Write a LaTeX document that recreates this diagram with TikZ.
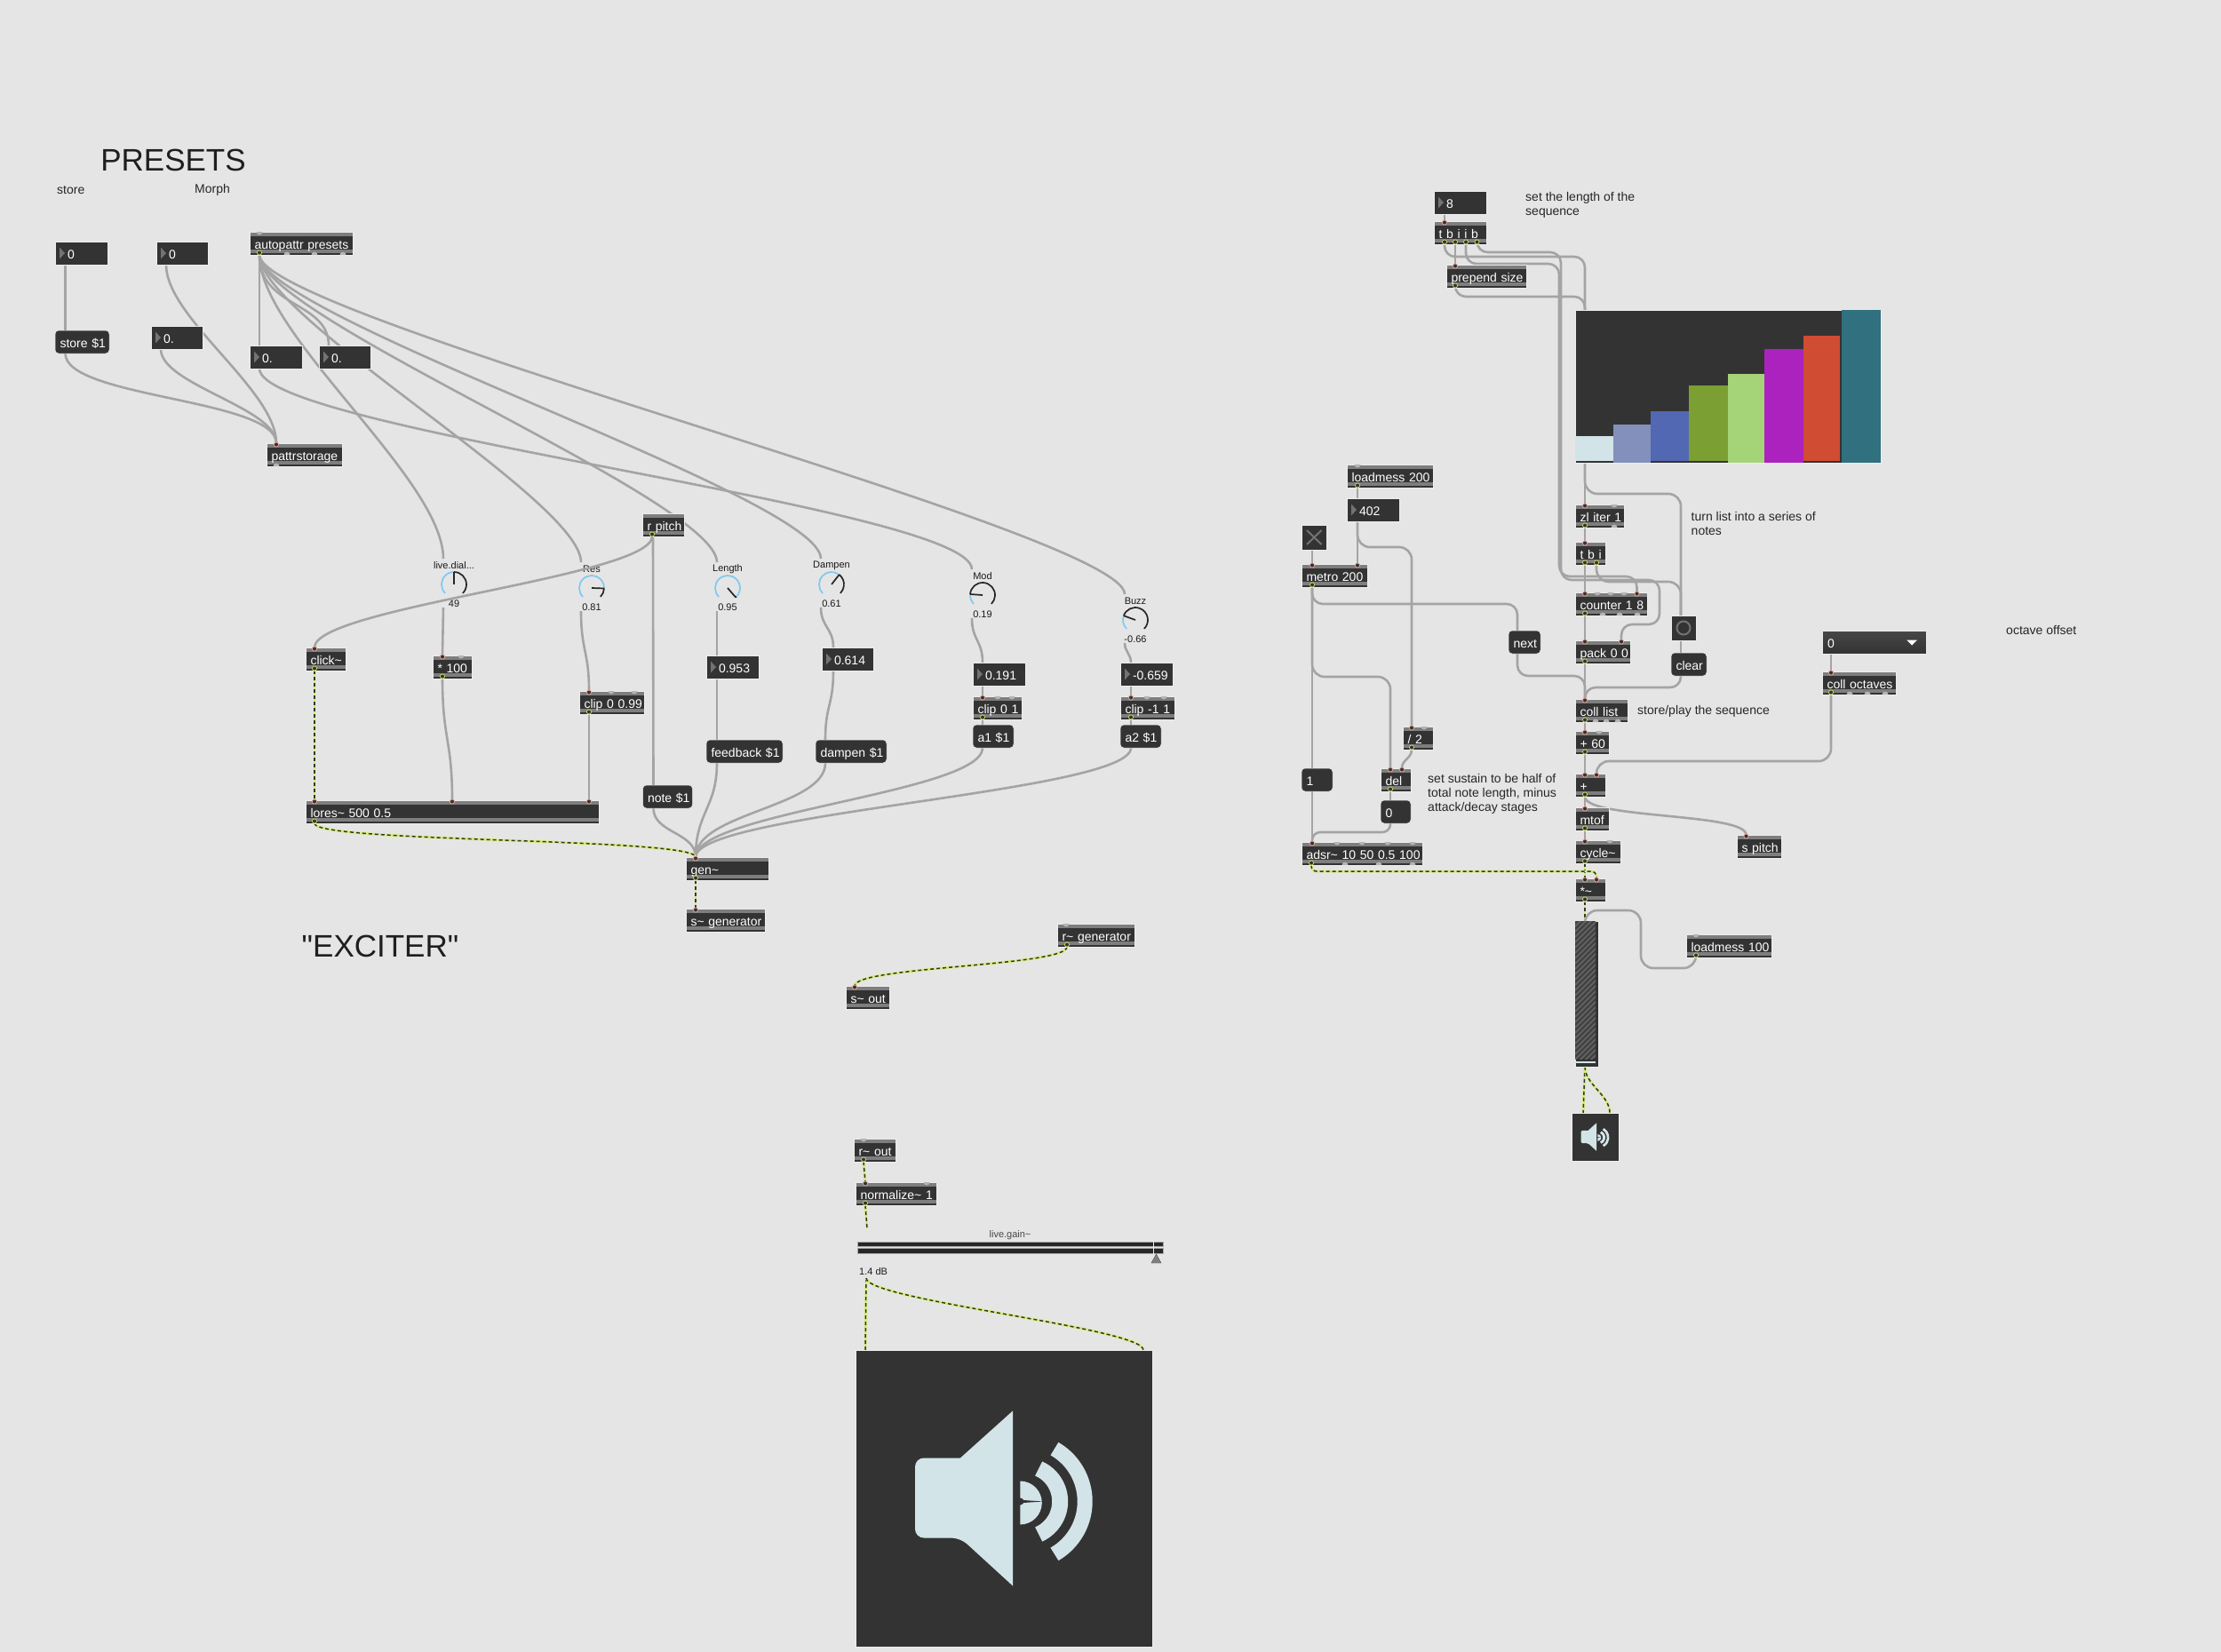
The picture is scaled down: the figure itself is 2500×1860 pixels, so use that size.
\documentclass[tikz,border=0pt]{standalone}
\usepackage{fontspec}
\setmainfont{Liberation Sans}
\newfontfamily\plainsans{Liberation Sans}
\pgfdeclarelayer{bg}
\pgfdeclarelayer{wires}
\pgfsetlayers{bg,wires,main}
\definecolor{panelgray}{HTML}{E5E5E5}
\definecolor{boxdark}{HTML}{333333}
\definecolor{bandgray}{HTML}{7E7E7E}
\definecolor{wiregray}{HTML}{A4A4A4}
\definecolor{audiolime}{HTML}{D6EC7C}
\definecolor{audiodark}{HTML}{2F3A28}
\definecolor{portpink}{HTML}{E9A793}
\definecolor{portyellow}{HTML}{CFD65C}
\definecolor{portspare}{HTML}{B4B4B4}
\definecolor{iconblue}{HTML}{D2E4E8}
\definecolor{dialblue}{HTML}{7FC9EE}
\definecolor{edgelight}{HTML}{EDEDED}
\newcommand{\tld}{\textasciitilde}
\newcommand{\speakericon}[3]{%
	\begin{scope}[shift={(#1,#2)},scale=#3]
		\fill[iconblue,rounded corners=#3*10pt] (-49,-45) -- (-100,-45) -- (-100,45) -- (-49,45) [sharp corners] -- (10,99) -- (10,-98) -- cycle;
		\draw[iconblue,line width=#3*17pt] (22.7,4) ++(60:68.5pt) arc (60:-60:68.5pt);
		\draw[iconblue,line width=#3*18pt] (22.7,4) ++(66:40.5pt) arc (66:-66:40.5pt);
		\fill[iconblue] (18.3,5.5) ++(90:24.5pt) arc (90:-90:24.5pt) -- cycle;
		\fill[boxdark] (18.5,4) circle (4pt);
		\fill[boxdark] (22,2.5) -- (44,4) -- (22,5.5) -- cycle;
	\end{scope}}
\newcommand{\dial}[6]{%
	\node (#1) [dialbody] at (#2,#3) {};
	\node (#1name) [dialtext] at ([yshift=21pt]#1.center) {#5};
	\node (#1val) [dialtext] at ([yshift=-22pt]#1.center) {#6};
	\draw[dialblue,line width=1.7pt] (#1.center) ++(225:14pt) arc (225:#4:14pt);
	\draw[black!85,line width=1.7pt] (#1.center) ++(#4:14pt) arc (#4:-45:14pt);
	\draw[black!85,line width=1.7pt] (#1.center) -- ++(#4:14pt);
	\coordinate (#1in) at ([xshift=-12pt,yshift=29pt]#1.center);
	\coordinate (#1out) at ([xshift=-12pt,yshift=-26pt]#1.center);}
\tikzstyle{objbase} = [anchor=north west,fill=boxdark,draw=edgelight,line width=.5pt,text=white,outer sep=0pt,inner ysep=0pt,inner xsep=3pt,minimum height=26pt,text height=13.3pt,text depth=.7pt,align=left,font=\fontsize{14}{16}\selectfont]
\tikzstyle{wire} = [draw=wiregray,line width=2.6pt]
\tikzstyle{audio} = [draw=audiodark,line width=1.5pt,dash pattern=on 4pt off 3pt,preaction={draw=audiolime,line width=2.8pt,solid}]
\tikzstyle{note} = [anchor=west,inner sep=0pt,align=left,text=black!85,font=\fontsize{14}{16}\selectfont]
\tikzstyle{title} = [inner sep=0pt,text=black!88,font=\plainsans\fontsize{35}{38}\selectfont]
\tikzstyle{dialtext} = [inner sep=0pt,text=black!90,font=\fontsize{11}{13}\selectfont]
\tikzstyle{dialbody} = [circle,inner sep=0pt,minimum size=30pt,outer sep=0pt]
\begin{document}
\begin{tikzpicture}[x=1pt,y=-1pt,
			obj/.style={objbase,text width=#1pt-6pt,execute at begin node=\hspace*{2.5pt}\hbox\bgroup,execute at end node=\egroup,
				path picture={
					\fill[bandgray] ([yshift=-1pt]path picture bounding box.north west) rectangle ([yshift=-4.5pt]path picture bounding box.north east);
					\fill[bandgray] ([yshift=6pt]path picture bounding box.south west) rectangle ([yshift=2pt]path picture bounding box.south east);}},
			msg/.style={objbase,rounded corners=4pt,text width=#1pt-6pt,execute at begin node=\hspace*{2.5pt}\hbox\bgroup,execute at end node=\egroup},
			num/.style={objbase,text width=#1pt-6pt,execute at begin node=\hspace*{11pt}\hbox\bgroup,execute at end node=\egroup,
				path picture={
					\fill[black!55] ([xshift=5pt,yshift=6.5pt]path picture bounding box.west) -- ([xshift=11pt]path picture bounding box.west) -- ([xshift=5pt,yshift=-6.5pt]path picture bounding box.west) -- cycle;}}]
			\useasboundingbox (0,0) rectangle (2500,1860);
			\begin{pgfonlayer}{bg}
				\fill[panelgray] (0,0) rectangle (2500,1860);
			\end{pgfonlayer}

			\node (lblpresets) [title] at (195,180) {PRESETS};
			\node (lblexciter) [title] at (428,1065) {"EXCITER"};
			\node (lblstore) [note] at (64,214) {store};
			\node (lblmorph) [note] at (219,214) {Morph};
			\node (lbllength) [note] at (1717,231) {set the length of the\\sequence};
			\node (lblseries) [note] at (1903.5,589.5) {turn list into a series of\\notes};
			\node (lblplay) [note] at (1843,800.5) {store/play the sequence};
			\node (lbloffset) [note] at (2258,709.5) {octave offset};
			\node (lblsustain) [note] at (1607,894) {set sustain to be half of\\total note length, minus\\attack/decay stages};

			\node (numstore) [num=59] at (62,272) {0};
			\node (nummorph) [num=58] at (176,272) {0};
			\node (numa) [num=58] at (170,367) {0.};
			\node (numb) [num=59] at (281,389) {0.};
			\node (numc) [num=58] at (359,389) {0.};
			\node (numlen) [num=59] at (795,738) {0.953};
			\node (numdamp) [num=58] at (925,729) {0.614};
			\node (nummod) [num=59] at (1095,746) {0.191};
			\node (numbuzz) [num=59] at (1261,746) {-0.659};
			\node (numseq) [num=59] at (1614,215) {8};
			\node (numtime) [num=59] at (1516,561) {402};

			\node (msgstore) [msg=61] at (62,372) {store \$1};
			\node (msgfeed) [msg=86] at (795,833) {feedback \$1};
			\node (msgdamp) [msg=80] at (918,833) {dampen \$1};
			\node (msgnote) [msg=56] at (723.5,884) {note \$1};
			\node (msgaone) [msg=46] at (1095,816) {a1 \$1};
			\node (msgatwo) [msg=46] at (1261,816) {a2 \$1};
			\node (msgnext) [msg=36] at (1698,710) {next};
			\node (msgclear) [msg=40] at (1881,735) {clear};
			\node (msgone) [msg=35] at (1465,865) {1};
			\node (msgzero) [msg=34] at (1554,901) {0};

			\node (autopattr) [obj=116] at (281,261) {autopattr presets};
			\node (pattr) [obj=85] at (300,499) {pattrstorage};
			\node (rpitch) [obj=47] at (723,578) {r pitch};
			\node (click) [obj=45] at (344,729) {click\tld};
			\node (times) [obj=44] at (487,738) {* 100};
			\node (clipres) [obj=73] at (652,778) {clip 0 0.99};
			\node (lores) [obj=330] at (344,901) {lores\tld{} 500 0.5};
			\node (gen) [obj=93] at (772,965) {gen\tld};
			\node (sgen) [obj=89] at (772,1023) {s\tld{} generator};
			\node (clipmod) [obj=55] at (1095,784) {clip 0 1};
			\node (clipbuzz) [obj=61] at (1261,784) {clip -1 1};
			\node (rgen) [obj=87] at (1190,1040) {r\tld{} generator};
			\node (sout) [obj=49] at (952,1110) {s\tld{} out};
			\node (rout) [obj=47] at (961,1282) {r\tld{} out};
			\node (norm) [obj=91] at (963,1331) {normalize\tld{} 1};
			\node (tbiib) [obj=59] at (1614,249) {t b i i b};
			\node (prepend) [obj=90] at (1628,298) {prepend size};
			\node (loadfast) [obj=97] at (1516,523) {loadmess 200};
			\node (metro) [obj=74] at (1465,635) {metro 200};
			\node (zliter) [obj=55] at (1773,568) {zl iter 1};
			\node (tbi) [obj=34] at (1773,610) {t b i};
			\node (counter) [obj=81] at (1773,667) {counter 1 8};
			\node (pack) [obj=62] at (1773,721) {pack 0 0};
			\node (coll) [obj=59] at (1773,787) {coll list};
			\node (plussixty) [obj=38] at (1773,823) {+ 60};
			\node (plus) [obj=34] at (1773,871) {+};
			\node (mtof) [obj=38] at (1773,909) {mtof};
			\node (cycle) [obj=51] at (1773,946) {cycle\tld};
			\node (mult) [obj=34] at (1773,989) {*\tld};
			\node (half) [obj=34] at (1579,818) {/ 2};
			\node (del) [obj=34] at (1554,865) {del};
			\node (adsr) [obj=136] at (1465,948) {adsr\tld{} 10 50 0.5 100};
			\node (spitch) [obj=50] at (1955,940) {s pitch};
			\node (loadgain) [obj=96] at (1898,1052) {loadmess 100};
			\node (colloct) [obj=83] at (2051,756) {coll octaves};

			\node (umenu) [objbase,text width=111pt,execute at begin node=\hspace*{3pt},top color=black!72,bottom color=boxdark] at (2051,710) {0};
			\fill[white] ([xshift=-22pt,yshift=2.5pt]umenu.east) -- ([xshift=-10pt,yshift=2.5pt]umenu.east) -- ([xshift=-16pt,yshift=-3.5pt]umenu.east) -- cycle;
			\node (toggle) [objbase,text width=22.5pt,minimum height=28pt] at (1465,591) {};
			\draw[black!55,line width=2pt] ([shift={(6pt,-6pt)}]toggle.north west) -- ([shift={(-6pt,6pt)}]toggle.south east);
			\draw[black!55,line width=2pt] ([shift={(-6pt,-6pt)}]toggle.north east) -- ([shift={(6pt,6pt)}]toggle.south west);
			\node (bang) [objbase,text width=22pt,minimum height=28pt] at (1881,693) {};
			\draw[black!55,line width=2pt] (bang.center) circle (7.5pt);

			\node (seq) [objbase,text width=338pt,minimum height=172pt,text height=0pt,text depth=0pt] at (1773,349) {};
			\foreach \xa/\xb/\ya/\yb/\col in {1773/1816/491/519/D2E4E8,1816/1858/478/521/8390BB,1858/1901/463/519/5268B3,1901/1945/434/519/7B9F32,1945/1986/421/521/A5D478,1986/2030/393/521/AB22BF,2030/2071/378/519/D04C33,2073/2117/349/521/30707F} {
				\definecolor{barcol}{HTML}{\col}
				\fill[barcol] (\xa,\ya) rectangle (\xb,\yb);
			}

			\node (slider) [objbase,text width=20pt,minimum height=164pt,text height=0pt,text depth=0pt] at (1773,1037) {};
			\begin{scope}
				\clip (1773,1037) rectangle (1796,1192);
				\fill[black!75] (1773,1037) rectangle (1796,1192);
				\foreach \k in {0,6,...,186} {
					\draw[black!62,line width=2pt] (1773,{1037+\k}) -- (1796,{1037+\k-23});
				}
			\end{scope}
			\draw[iconblue,line width=1.5pt] (1773,1196) -- (1796,1196);

			\node (smalldac) [objbase,text width=47pt,minimum height=54pt,text height=0pt,text depth=0pt] at (1769,1253) {};
			\speakericon{1795.5}{1280}{0.16}
			\node (bigdac) [objbase,text width=328pt,minimum height=334pt,text height=0pt,text depth=0pt] at (963,1520) {};
			\speakericon{1130}{1686.5}{1}

			\node (livegain) [anchor=north west,minimum width=344pt,minimum height=56pt,inner sep=0pt,outer sep=0pt] at (965,1383) {};
			\node (lblgain) [dialtext,text=black!72] at (1137,1391) {live.gain\tld};
			\node (lbldb) [dialtext,anchor=west] at (967,1432) {1.4 dB};
			\fill[black!85,draw=black!35,line width=.4pt] (965,1398) rectangle (1309,1403.5);
			\fill[black!85,draw=black!35,line width=.4pt] (965,1405) rectangle (1309,1411);
			\fill[edgelight] (1297.5,1397) rectangle (1299,1412);
			\fill[black!50,draw=black!70,line width=.4pt] (1301.5,1412) -- (1307,1422) -- (1296,1422) -- cycle;

			\dial{dialgain}{511}{658}{90}{live.dial...}{49}
			\dial{dialres}{666}{662}{-2}{Res}{0.81}
			\dial{diallen}{819}{662}{-49}{Length}{0.95}
			\dial{dialdamp}{936}{658}{52}{Dampen}{0.61}
			\dial{dialmod}{1106}{670}{176}{Mod}{0.19}
			\dial{dialbuzz}{1278}{698}{160}{Buzz}{-0.66}

			\begin{pgfonlayer}{wires}
				\draw[wire] ([xshift=11.5pt]numstore.south west) -- ([xshift=11.5pt]msgstore.north west);
				\draw[wire] ([xshift=11.5pt]msgstore.south west) .. controls +(0,50) and +(0,-50) .. ([xshift=11pt]pattr.north west);
				\draw[wire] ([xshift=11pt]nummorph.south west) .. controls +(0,60) and +(0,-60) .. ([xshift=11pt]pattr.north west);
				\draw[wire] ([xshift=11pt]numa.south west) .. controls +(0,40) and +(0,-40) .. ([xshift=11pt]pattr.north west);
				\draw[wire] ([xshift=11pt]autopattr.south west) -- ([xshift=11pt]numb.north west);
				\draw[wire] ([xshift=11pt]autopattr.south west) .. controls +(0,60) and +(0,-50) .. ([xshift=11pt]numc.north west);
				\draw[wire] ([xshift=11pt]autopattr.south west) .. controls +(0,90) and +(0,-90) .. (dialgainin);
				\draw[wire] ([xshift=11pt]autopattr.south west) .. controls +(0,70) and +(0,-70) .. (dialresin);
				\draw[wire] ([xshift=11pt]autopattr.south west) .. controls +(0,70) and +(0,-70) .. (diallenin);
				\draw[wire] ([xshift=11pt]autopattr.south west) .. controls +(0,70) and +(0,-70) .. (dialdampin);
				\draw[wire] ([xshift=11pt]autopattr.south west) .. controls +(0,70) and +(0,-70) .. (dialbuzzin);
				\draw[wire] ([xshift=11pt]numb.south west) .. controls +(0,70) and +(0,-70) .. (dialmodin);

				\draw[wire] (dialgainout) -- ([xshift=11pt]times.north west);
				\draw[wire] ([xshift=11pt]times.south west) .. controls +(0,68) and +(0,-68) .. ([xshift=165pt]lores.north west);
				\draw[wire] (dialresout) .. controls +(0,45) and +(0,-45) .. ([xshift=11pt]clipres.north west);
				\draw[wire] ([xshift=11pt]clipres.south west) -- ([xshift=319pt]lores.north west);
				\draw[wire] (diallenout) -- ([xshift=12pt]numlen.north west);
				\draw[wire] ([xshift=12pt]numlen.south west) -- ([xshift=12pt]msgfeed.north west);
				\draw[wire] (dialdampout) .. controls +(0,22) and +(0,-22) .. ([xshift=13pt]numdamp.north west);
				\draw[wire] ([xshift=13pt]numdamp.south west) .. controls +(0,40) and +(0,-40) .. ([xshift=11pt]msgdamp.north west);
				\draw[wire] (dialmodout) .. controls +(0,25) and +(0,-25) .. ([xshift=11pt]nummod.north west);
				\draw[wire] ([xshift=11pt]nummod.south west) -- ([xshift=11pt]clipmod.north west);
				\draw[wire] ([xshift=11pt]clipmod.south west) -- ([xshift=11pt]msgaone.north west);
				\draw[wire] (dialbuzzout) .. controls +(0,10) and +(0,-10) .. ([xshift=12pt]numbuzz.north west);
				\draw[wire] ([xshift=12pt]numbuzz.south west) -- ([xshift=12pt]clipbuzz.north west);
				\draw[wire] ([xshift=12pt]clipbuzz.south west) -- ([xshift=12pt]msgatwo.north west);

				\draw[wire] ([xshift=12pt]rpitch.south west) -- ([xshift=12pt]msgnote.north west);
				\draw[wire] ([xshift=12pt]msgnote.south west) .. controls +(0,28) and +(0,-28) .. ([xshift=11pt]gen.north west);
				\draw[wire] ([xshift=12pt]msgfeed.south west) .. controls +(0,50) and +(0,-50) .. ([xshift=11pt]gen.north west);
				\draw[wire] ([xshift=11pt]msgdamp.south west) .. controls +(0,50) and +(0,-50) .. ([xshift=11pt]gen.north west);
				\draw[wire] ([xshift=11pt]msgaone.south west) .. controls +(0,50) and +(0,-50) .. ([xshift=11pt]gen.north west);
				\draw[wire] ([xshift=12pt]msgatwo.south west) .. controls +(0,50) and +(0,-50) .. ([xshift=11pt]gen.north west);

				\draw[audio] ([xshift=10pt]click.south west) -- ([xshift=10pt]lores.north west);
				\draw[audio] ([xshift=10pt]lores.south west) .. controls +(0,22) and +(0,-22) .. ([xshift=11pt]gen.north west);
				\draw[audio] ([xshift=11pt]gen.south west) -- ([xshift=11pt]sgen.north west);
				\draw[audio] ([xshift=11pt]rgen.south west) .. controls +(0,22) and +(0,-22) .. ([xshift=10pt]sout.north west);
				\draw[audio] ([xshift=11pt]rout.south west) -- ([xshift=11pt]norm.north west);
				\draw[audio] ([xshift=11pt]norm.south west) -- ([xshift=11pt]livegain.north west);
				\draw[audio] ([xshift=10pt]livegain.south west) -- ([xshift=11pt]bigdac.north west);
				\draw[audio] ([xshift=10pt]livegain.south west) .. controls +(0,25) and +(0,-25) .. ([xshift=324pt]bigdac.north west);

				\draw[wire] ([xshift=12pt]numseq.south west) -- ([xshift=12pt]tbiib.north west);
				\draw[wire] ([xshift=24pt]tbiib.south west) -- ([xshift=10pt]prepend.north west);
				\draw[wire,rounded corners=12pt] ([xshift=12pt]tbiib.south west) -- ++(0,14) -| ([xshift=11pt]seq.north west);
				\draw[wire,rounded corners=12pt] ([xshift=10pt]prepend.south west) -- ++(0,10) -| ([xshift=11pt]seq.north west);
				\draw[wire,rounded corners=12pt] ([xshift=36pt]tbiib.south west) -- ++(0,22) -- ++(105,0) -- ++(0,352) -| ([xshift=69.5pt]counter.north west);
				\draw[wire,rounded corners=12pt] ([xshift=48.5pt]tbiib.south west) -- ++(0,9) -- ++(94.5,0) -- ++(0,369) -- ++(111,0) -- ++(0,50) -| ([xshift=52pt]pack.north west);
				\draw[wire] ([xshift=11pt]seq.south west) -- ([xshift=11pt]zliter.north west);
				\draw[wire,rounded corners=14pt] ([xshift=11pt]seq.south west) -- ++(0,35) -| ([xshift=11pt]bang.north west);
				\draw[wire] ([xshift=11pt]zliter.south west) -- ([xshift=11pt]tbi.north west);
				\draw[wire] ([xshift=11pt]tbi.south west) -- ([xshift=11pt]counter.north west);
				\draw[wire,rounded corners=14pt] ([xshift=24pt]tbi.south west) -- ++(0,19) -| ([xshift=11pt]bang.north west);
				\draw[wire] ([xshift=11pt]counter.south west) -- ([xshift=11pt]pack.north west);
				\draw[wire] ([xshift=11pt]pack.south west) -- ([xshift=11pt]coll.north west);
				\draw[wire] ([xshift=11pt]bang.south west) -- ([xshift=11pt]msgclear.north west);
				\draw[wire,rounded corners=12pt] ([xshift=11pt]msgclear.south west) -- ++(0,13) -| ([xshift=11pt]coll.north west);
				\draw[wire,rounded corners=12pt] ([xshift=10pt]msgnext.south west) -- ++(0,25) -| ([xshift=11pt]coll.north west);
				\draw[wire] ([xshift=11pt]coll.south west) -- ([xshift=11pt]plussixty.north west);
				\draw[wire] ([xshift=11pt]plussixty.south west) -- ([xshift=11pt]plus.north west);
				\draw[wire] ([xshift=11pt]plus.south west) -- ([xshift=11pt]mtof.north west);
				\draw[wire] ([xshift=11pt]plus.south west) .. controls +(0,25) and +(0,-25) .. ([xshift=10.5pt]spitch.north west);
				\draw[wire] ([xshift=11pt]mtof.south west) -- ([xshift=11pt]cycle.north west);
				\draw[wire] ([xshift=10pt]umenu.south west) -- ([xshift=10pt]colloct.north west);
				\draw[wire,rounded corners=14pt] ([xshift=10pt]colloct.south west) -- ++(0,75) -| ([xshift=24pt]plus.north west);

				\draw[wire] ([xshift=12pt]loadfast.south west) -- ([xshift=12pt]numtime.north west);
				\draw[wire] ([xshift=12pt]numtime.south west) -- ([xshift=63pt]metro.north west);
				\draw[wire,rounded corners=14pt] ([xshift=12pt]numtime.south west) -- ++(0,29) -| ([xshift=10pt]half.north west);
				\draw[wire] ([xshift=12pt]toggle.south west) -- ([xshift=12pt]metro.north west);
				\draw[wire,rounded corners=12pt] ([xshift=12pt]metro.south west) -- ++(0,19) -| ([xshift=10pt]msgnext.north west);
				\draw[wire] ([xshift=12pt]metro.south west) -- ([xshift=12pt]msgone.north west);
				\draw[wire,rounded corners=14pt] ([xshift=12pt]metro.south west) -- ++(0,101) -| ([xshift=11pt]del.north west);
				\draw[wire] ([xshift=12pt]msgone.south west) -- ([xshift=12pt]adsr.north west);
				\draw[wire] ([xshift=10pt]half.south west) .. controls +(0,10) and +(0,-10) .. ([xshift=24pt]del.north west);
				\draw[wire] ([xshift=11pt]del.south west) -- ([xshift=11pt]msgzero.north west);
				\draw[wire,rounded corners=9pt] ([xshift=11pt]msgzero.south west) -- ++(0,10) -| ([xshift=12pt]adsr.north west);

				\draw[audio] ([xshift=11pt]cycle.south west) -- ([xshift=11pt]mult.north west);
				\draw[audio,rounded corners=6pt] ([xshift=11pt]adsr.south west) -- ++(0,7) -| ([xshift=24pt]mult.north west);
				\draw[audio] ([xshift=11pt]mult.south west) -- ([xshift=11pt]slider.north west);
				\draw[wire,rounded corners=14pt] ([xshift=11pt]loadgain.south west) -- ++(0,12) -- ++(-62,0) -- ++(0,-65) -| ([xshift=11pt]slider.north west);
				\draw[audio] ([xshift=11pt]slider.south west) -- ([xshift=13pt]smalldac.north west);
				\draw[audio] ([xshift=11pt]slider.south west) .. controls +(0,20) and +(0,-20) .. ([xshift=43pt]smalldac.north west);
			\end{pgfonlayer}

			\draw[wire] ([xshift=11pt]rpitch.south west) .. controls +(0,45) and +(0,-45) .. ([xshift=10pt]click.north west);

			\foreach \n/\x in {autopattr/11,rgen/10,loadfast/12,loadgain/11,rout/11,times/32,clipres/36,clipres/62,clipmod/28,clipmod/44,clipbuzz/30,clipbuzz/49,zliter/44,counter/25,counter/40,counter/55,half/24,plussixty/27,cycle/39,adsr/40,adsr/68,adsr/97,adsr/125,norm/80} {
				\fill[portspare] ([xshift=\x pt]\n.north west) ++(-3.5pt,0) arc (180:360:3.5pt);
			}
			\foreach \n/\x in {autopattr/42,autopattr/73,autopattr/105,pattr/11,zliter/44,counter/31,counter/50,counter/70,coll/23,coll/35,coll/48,adsr/49,adsr/87,adsr/125,colloct/31,colloct/51,colloct/71} {
				\fill[portspare] ([xshift=\x pt]\n.south west) ++(-3.5pt,0) arc (180:0:3.5pt);
			}
			\foreach \n/\x in {pattr/11,click/10,times/11,clipres/11,lores/10,lores/165,lores/319,gen/11,sgen/11,clipmod/11,clipbuzz/12,sout/10,norm/11,tbiib/12,prepend/10,metro/12,metro/63,zliter/11,tbi/11,counter/11,counter/69.5,pack/11,pack/52,coll/11,plussixty/11,plus/11,plus/24,mtof/11,cycle/11,mult/11,mult/24,half/10,del/11,del/24,adsr/12,spitch/10.5,colloct/10} {
				\draw[draw=portpink,fill=boxdark,line width=.8pt] ([xshift=\x pt]\n.north west) ++(0,1.5) circle (2.6pt);
			}
			\foreach \n/\x in {autopattr/11,rpitch/11,click/10,times/11,clipres/11,lores/10,gen/11,clipmod/11,clipbuzz/12,rgen/11,rout/11,norm/11,tbiib/12,tbiib/24,tbiib/36,tbiib/48.5,prepend/10,loadfast/12,metro/12,zliter/11,tbi/11,tbi/24,counter/11,pack/11,coll/11,plussixty/11,plus/11,mtof/11,cycle/11,mult/11,half/10,del/11,adsr/11,loadgain/11,colloct/10} {
				\draw[draw=portyellow,fill=boxdark,line width=.8pt] ([xshift=\x pt]\n.south west) ++(0,-2.5) circle (2.6pt);
			}
		\end{tikzpicture}
\end{document}
